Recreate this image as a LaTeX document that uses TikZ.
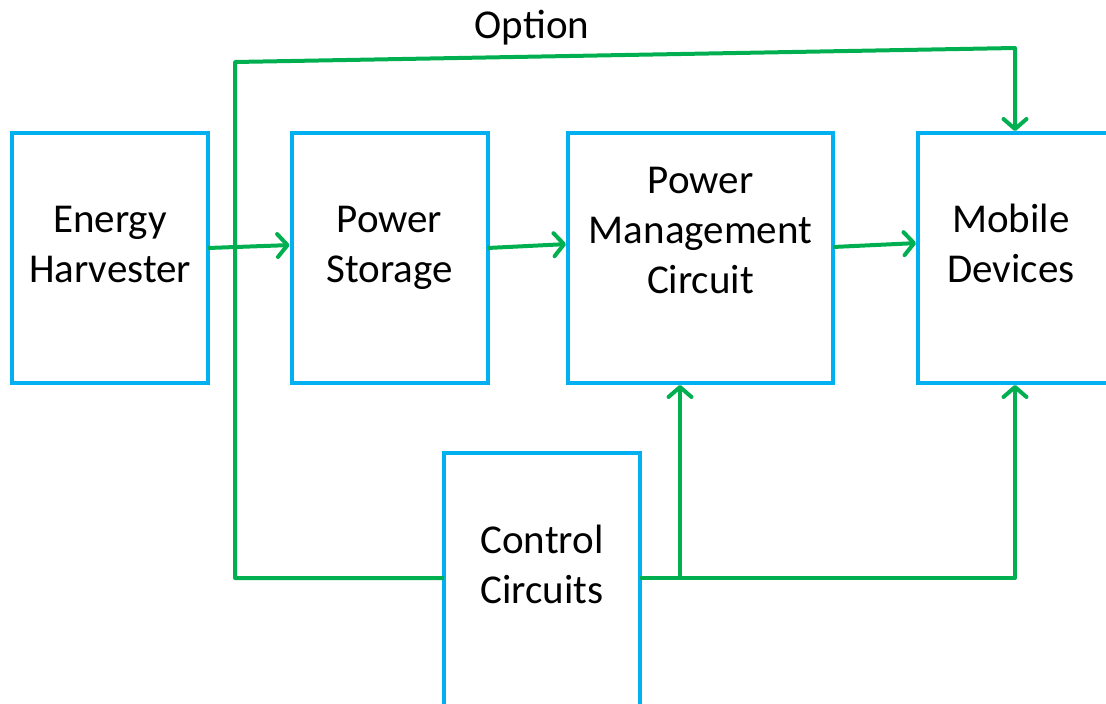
\documentclass[tikz,border=0pt]{standalone}
\usepackage{fontspec}
\setmainfont{Carlito}
\usetikzlibrary{arrows.meta}
\definecolor{boxblue}{HTML}{00B0F0}
\definecolor{lgreen}{HTML}{00B050}
\tikzset{
  box/.style={draw=boxblue, line width=4pt, rectangle, inner sep=0pt, outer sep=0pt},
  txt/.style={font=\fontsize{41}{50}\selectfont, inner sep=0pt, anchor=base, text=black},
  g/.style={draw=lgreen, line width=4pt, line join=round},
  ga/.style={g, -{Straight Barb[length=10pt,width=23pt,line cap=round,line join=round]}, shorten >=2pt},
}
\begin{document}
\begin{tikzpicture}[x=1pt,y=-1pt]
\useasboundingbox (0,0) rectangle (1106,704);
% boxes
\node[box, minimum width=196, minimum height=250] (eh) at (110,258) {};
\node[box, minimum width=196, minimum height=250] (ps) at (389.5,258) {};
\node[box, minimum width=265, minimum height=250] (pmc) at (700.5,258) {};
\node[box, minimum width=192, minimum height=250] (md) at (1014,258) {};
\node[box, minimum width=196, minimum height=258] (cc) at (542,582) {};
% texts
\node[txt] (t1) at (110,232) {Energy};
\node[txt] (t2) at (110,282) {Harvester};
\node[txt] (t3) at (389.5,232) {Power};
\node[txt] (t4) at (389.5,282) {Storage};
\node[txt] (t5) at (700.5,193) {Power};
\node[txt] (t6) at (700.5,243) {Management};
\node[txt] (t7) at (700.5,293) {Circuit};
\node[txt] (t8) at (1011,232) {Mobile};
\node[txt] (t9) at (1011,282) {Devices};
\node[txt] (t10) at (542,553) {Control};
\node[txt] (t11) at (542,603) {Circuits};
\node[txt] (opt) at (532,38) {Option};
% connectors
\coordinate (lb) at (235,578);
\coordinate (lt) at (235,62);
\coordinate (rt) at (1015,48);
\coordinate (br) at (680,578);
\coordinate (rb) at (1015,578);
\draw[ga] ([yshift=4pt]cc.west) -- (lb) -- (lt) -- (rt) -- (rt |- md.north);
\draw[ga] ([yshift=4pt]cc.east) -- (rb) -- (rb |- md.south);
\draw[ga] (br) -- (br |- pmc.south);
\draw[ga] ([yshift=10pt]eh.east) -- ([yshift=13pt]ps.west);
\draw[ga] ([yshift=10pt]ps.east) -- ([yshift=14pt]pmc.west);
\draw[ga] ([yshift=11pt]pmc.east) -- ([yshift=15pt]md.west);
\end{tikzpicture}
\end{document}
